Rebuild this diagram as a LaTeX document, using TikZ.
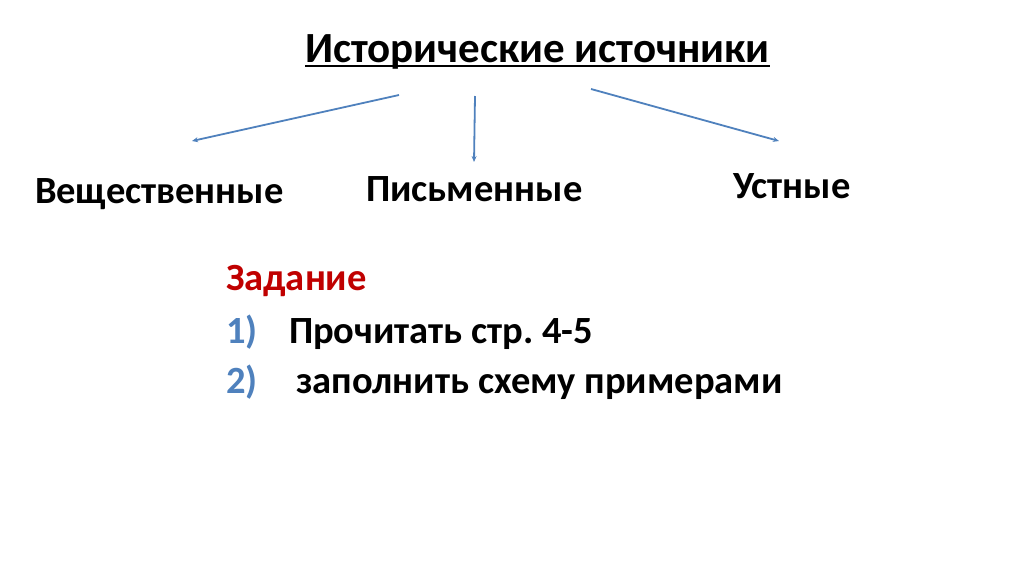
\documentclass[tikz,border=0pt]{standalone}
\usepackage{fontspec}
\setmainfont{Carlito}
\frenchspacing
\usetikzlibrary{arrows.meta}
\definecolor{arrowblue}{HTML}{4F81BD}
\definecolor{taskred}{HTML}{C00000}
\definecolor{numblue}{HTML}{4F81BD}
\begin{document}
\begin{tikzpicture}[x=1pt,y=-1pt,
  every node/.style={inner sep=0pt,outer sep=0pt,font=\bfseries},
  titletext/.style={anchor=base west,font=\fontsize{43}{50}\selectfont\bfseries},
  labeltext/.style={anchor=base west,font=\fontsize{38.5}{44}\selectfont\bfseries},
  tasktext/.style={anchor=base west,font=\fontsize{38.5}{44}\selectfont\bfseries},
  conn/.style={draw=arrowblue,line width=1.8pt,-{Stealth[length=6pt,width=5pt]}}]
\fill[white] (0,0) rectangle (1024,574);
\node[titletext] (title) at (305,62) {Исторические источники};
\draw[line width=2.2pt] ([yshift=-4pt]title.base west) -- ([yshift=-4pt]title.base east);
\node[labeltext] (veshch) at (35,203) {Вещественные};
\node[labeltext] (pism) at (366,201) {Письменные};
\node[labeltext] (ustn) at (733,198) {Устные};
\coordinate (s1) at (399,95);
\coordinate (e1) at (192,141);
\coordinate (s2) at (475,96);
\coordinate (e2) at (474,162);
\coordinate (s3) at (591,89);
\coordinate (e3) at (779,141);
\draw[conn] (s1) -- (e1);
\draw[conn] (s2) -- (e2);
\draw[conn] (s3) -- (e3);
\node[tasktext,text=taskred] (zad) at (226,290) {Задание};
\node[tasktext,text=numblue] (n1) at (226,343) {1)};
\node[tasktext] (t1) at (289,343) {Прочитать стр. 4-5};
\node[tasktext,text=numblue] (n2) at (226,393) {2)};
\node[tasktext] (t2) at (296,393) {заполнить схему примерами};
\end{tikzpicture}
\end{document}
